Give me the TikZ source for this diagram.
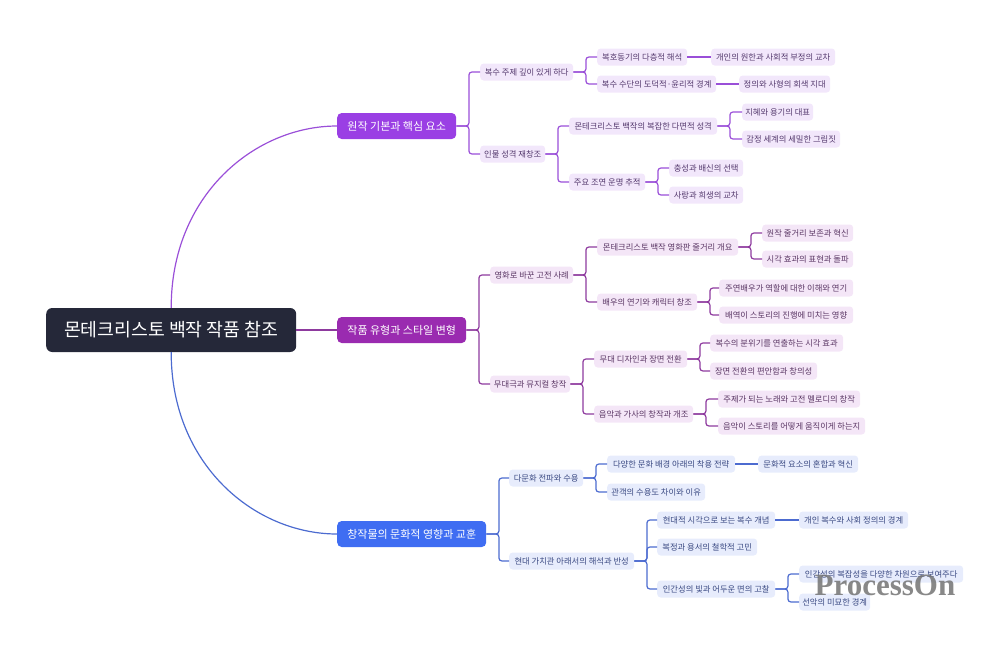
\documentclass[tikz,border=0pt]{standalone}
\usepackage{fontspec}
\setmainfont{Noto Sans CJK KR}
\newfontfamily\wmfont{Liberation Serif}
\definecolor{rootfill}{HTML}{252839}
\definecolor{afill}{HTML}{9A3FE4}
\definecolor{bfill}{HTML}{9A2BB0}
\definecolor{cfill}{HTML}{3F6DF2}
\definecolor{aline}{HTML}{9A4FD8}
\definecolor{bline}{HTML}{8E3A9E}
\definecolor{cline}{HTML}{4C6BD0}
\definecolor{aleaf}{HTML}{F2E7FB}
\definecolor{bleaf}{HTML}{F4E6F7}
\definecolor{cleaf}{HTML}{E7ECFC}
\definecolor{atext}{HTML}{553A6E}
\definecolor{btext}{HTML}{5A3664}
\definecolor{ctext}{HTML}{3A4982}
\tikzset{
  rootbox/.style={fill=rootfill, text=white, rounded corners=6pt, anchor=west,
    minimum height=44pt, inner sep=0pt, font=\fontsize{18.3}{21}\selectfont},
  lone/.style={rounded corners=4.5pt, anchor=west, text=white, minimum height=26pt,
    inner sep=0pt, font=\fontsize{11}{13}\selectfont},
  leaf/.style={rounded corners=3.5pt, anchor=west, minimum height=17pt,
    inner sep=0pt, font=\fontsize{8.3}{10}\selectfont},
  la/.style={leaf, fill=aleaf, text=atext},
  lb/.style={leaf, fill=bleaf, text=btext},
  lc/.style={leaf, fill=cleaf, text=ctext},
  conn/.style={line width=1.2pt, rounded corners=3pt},
}
\newcommand\br[3]{\draw[conn,#1] (#2.east) -- ++(12.5,0) |- (#3.west);}
\begin{document}
\begin{tikzpicture}[x=1pt,y=-1pt]
\useasboundingbox (0,0) rectangle (1000,646);
% root
\node[rootbox, minimum width=250pt] (root) at (46,330) {몬테크리스토 백작 작품 참조};
% level 1
\node[lone, fill=afill, minimum width=119pt] (a) at (337,126) {원작 기본과 핵심 요소};
\node[lone, fill=bfill, minimum width=129pt] (b) at (337,330) {작품 유형과 스타일 변형};
\node[lone, fill=cfill, minimum width=149pt] (c) at (337,534) {창작물의 문화적 영향과 교훈};
\draw[line width=1.2pt, aline] (root.north) .. controls (171,195) and (255,126) .. (a.west);
\draw[line width=1.2pt, bline] (root.east) -- (b.west);
\draw[line width=1.2pt, cline] (root.south) .. controls (171,465) and (255,534) .. (c.west);
% branch a
\node[la, minimum width=93pt] (a1) at (480,72) {복수 주제 깊이 있게 하다};
\node[la, minimum width=65pt] (a2) at (480,154) {인물 성격 재창조};
\node[la, minimum width=90pt] (a11) at (597,57) {복호동기의 다층적 해석};
\node[la, minimum width=119pt] (a12) at (597,84) {복수 수단의 도덕적·윤리적 경계};
\node[la, minimum width=124pt] (a111) at (711,57) {개인의 원한과 사회적 부정의 교차};
\node[la, minimum width=91pt] (a121) at (739,84) {정의와 사형의 회색 지대};
\node[la, minimum width=148pt] (a21) at (569,126) {몬테크리스토 백작의 복잡한 다면적 성격};
\node[la, minimum width=76pt] (a22) at (569,182) {주요 조연 운명 추적};
\node[la, minimum width=71pt] (a211) at (742,112) {지혜와 용기의 대표};
\node[la, minimum width=98pt] (a212) at (742,139) {감정 세계의 세밀한 그림짓};
\node[la, minimum width=74pt] (a221) at (669,168) {충성과 배신의 선택};
\node[la, minimum width=74pt] (a222) at (669,195) {사랑과 희생의 교차};
\br{aline}{a}{a1} \br{aline}{a}{a2}
\br{aline}{a1}{a11} \br{aline}{a1}{a12}
\draw[conn,aline] (a11.east) -- (a111.west);
\draw[conn,aline] (a12.east) -- (a121.west);
\br{aline}{a2}{a21} \br{aline}{a2}{a22}
\br{aline}{a21}{a211} \br{aline}{a21}{a212}
\br{aline}{a22}{a221} \br{aline}{a22}{a222}
% branch b
\node[lb, minimum width=83pt] (b1) at (490,275) {영화로 바꾼 고전 사례};
\node[lb, minimum width=80pt] (b2) at (490,384) {무대극과 뮤지컬 창작};
\node[lb, minimum width=141pt] (b11) at (597,247) {몬테크리스토 백작 영화판 줄거리 개요};
\node[lb, minimum width=100pt] (b12) at (597,302) {배우의 연기와 캐릭터 창조};
\node[lb, minimum width=91pt] (b111) at (762,233) {원작 줄거리 보존과 혁신};
\node[lb, minimum width=91pt] (b112) at (762,259) {시각 효과의 표현과 돌파};
\node[lb, minimum width=134pt] (b121) at (719,288) {주연배우가 역할에 대한 이해와 연기};
\node[lb, minimum width=134pt] (b122) at (719,315) {배역이 스토리의 진행에 미치는 영향};
\node[lb, minimum width=93pt] (b21) at (594,359) {무대 디자인과 장면 전환};
\node[lb, minimum width=99pt] (b22) at (594,414) {음악과 가사의 창작과 개조};
\node[lb, minimum width=133pt] (b211) at (710,343) {복수의 분위기를 연출하는 시각 효과};
\node[lb, minimum width=107pt] (b212) at (710,371) {장면 전환의 편안함과 창의성};
\node[lb, minimum width=142pt] (b221) at (718,399) {주제가 되는 노래와 고전 멜로디의 창작};
\node[lb, minimum width=147pt] (b222) at (718,426) {음악이 스토리를 어떻게 움직이게 하는지};
\br{bline}{b}{b1} \br{bline}{b}{b2}
\br{bline}{b1}{b11} \br{bline}{b1}{b12}
\br{bline}{b11}{b111} \br{bline}{b11}{b112}
\br{bline}{b12}{b121} \br{bline}{b12}{b122}
\br{bline}{b2}{b21} \br{bline}{b2}{b22}
\br{bline}{b21}{b211} \br{bline}{b21}{b212}
\br{bline}{b22}{b221} \br{bline}{b22}{b222}
% branch c
\node[lc, minimum width=74pt] (c1) at (509,478) {다문화 전파와 수용};
\node[lc, minimum width=125pt] (c2) at (509,561) {현대 가치관 아래서의 해석과 반성};
\node[lc, minimum width=128pt] (c11) at (607,464) {다양한 문화 배경 아래의 착용 전략};
\node[lc, minimum width=98pt] (c12) at (607,492) {관객의 수용도 차이와 이유};
\node[lc, minimum width=100pt] (c111) at (758,464) {문화적 요소의 혼합과 혁신};
\node[lc, minimum width=118pt] (c21) at (657,520) {현대적 시각으로 보는 복수 개념};
\node[lc, minimum width=100pt] (c22) at (657,547) {복정과 용서의 철학적 고민};
\node[lc, minimum width=118pt] (c23) at (657,589) {인간성의 빛과 어두운 면의 고찰};
\node[lc, minimum width=109pt] (c211) at (799,520) {개인 복수와 사회 정의의 경계};
\node[lc, minimum width=164pt] (c231) at (799,574) {인간성의 복잡성을 다양한 차원으로 보여주다};
\node[lc, minimum width=71pt] (c232) at (799,602) {선악의 미묘한 경계};
\br{cline}{c}{c1} \br{cline}{c}{c2}
\br{cline}{c1}{c11} \br{cline}{c1}{c12}
\draw[conn,cline] (c11.east) -- (c111.west);
\br{cline}{c2}{c21} \br{cline}{c2}{c22} \br{cline}{c2}{c23}
\draw[conn,cline] (c21.east) -- (c211.west);
\br{cline}{c23}{c231} \br{cline}{c23}{c232}
% watermark
\node[text=black!55, opacity=0.85, inner sep=0pt, font=\wmfont\bfseries\fontsize{31}{31}\selectfont] (wm) at (885,585) {ProcessOn};
\end{tikzpicture}
\end{document}
